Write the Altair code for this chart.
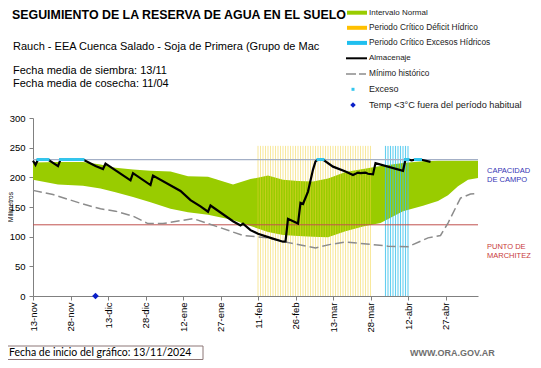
import json
import pandas as pd
import altair as alt

FONT = "Liberation Sans, Arial, sans-serif"

# ---------------- data ----------------
START = "13/11/2024"
TICK_DAYS = [0, 15, 30, 45, 60, 75, 90, 105, 120, 135, 150, 165]
TICK_LABELS = ["13-nov", "28-nov", "13-dic", "28-dic", "12-ene", "27-ene",
               "11-feb", "26-feb", "13-mar", "28-mar", "12-abr", "27-abr"]
Y_TICKS = [0, 50, 100, 150, 200, 250, 300]

CAPACIDAD = 230
MARCHITEZ = 120

alm_day = [0, 1, 2, 6, 10, 11, 20, 25, 28, 29, 39, 40, 47, 48, 59, 63, 67, 70, 71,
           80, 83, 84, 87, 90, 95, 100, 101, 102, 106, 107, 108, 110, 112, 113, 114,
           116, 120, 125, 128, 130, 131, 133, 134, 136, 137, 148, 149, 150, 151.5,
           153, 155, 159]
alm_mm = [228, 221, 230, 230, 219, 230, 230, 219, 214, 223, 195, 207, 187, 203, 177,
          161.5, 151, 142, 152.5, 126, 119, 122, 111, 105, 98, 91.5, 92, 130, 122,
          157, 155, 176, 213, 227, 230, 230, 218, 210, 204, 208, 207, 208, 206, 205,
          224, 211, 230, 230, 228.5, 230, 230, 226]

band_day = [0, 10, 20, 27, 33, 40, 47, 55, 62, 70, 80, 87, 94, 100, 106, 112, 118,
            125, 132, 139, 148, 156, 162, 166, 170, 174, 178]
band_hi = [225, 226, 226, 221.5, 216, 213, 211, 210, 202, 201, 188, 197, 203, 196,
           194, 193, 198, 209, 214, 219, 224, 227, 228, 228, 228, 228, 228]
band_lo = [196, 188, 186, 181, 175, 167, 158, 147, 141, 137, 128, 118, 108, 103,
           101, 100, 99, 109, 117, 123, 143, 152, 160, 170, 185, 196, 199]

min_day = [0, 8, 20, 27, 33, 40, 46, 52, 64, 75, 84, 94, 102, 113, 119, 125, 135,
           142, 150, 158, 163, 166, 171, 175, 178]
min_mm = [178, 171, 155, 147, 143, 134.5, 122, 122, 130.5, 115, 102, 98, 90, 81, 87,
          91, 87, 84, 83, 98, 102, 123, 165, 172, 173]

exc_day = [2, 3, 4, 5, 6, 11, 12, 13, 14, 15, 16, 17, 18, 19, 20, 114, 115, 116,
           149, 150, 153, 154, 155]
frost_day = [25]
frost_mm = [0]

DEFICIT_START, DEFICIT_END = 90, 135   # 11-feb .. 28-mar
EXCESS_START, EXCESS_END = 141, 150    # 02-abr .. 12-abr
PERIOD_TOP = 253

# ---------------- tables ----------------
alm_df = pd.DataFrame({"d": alm_day, "mm": alm_mm})
band_df = pd.DataFrame({"d": band_day, "lo": band_lo, "hi": band_hi})
min_df = pd.DataFrame({"d": min_day, "mm": min_mm})
exc_df = pd.DataFrame({"d": exc_day, "mm": [CAPACIDAD] * len(exc_day)})
frost_df = pd.DataFrame({"d": frost_day, "mm": frost_mm})
def_df = pd.DataFrame({"d": list(range(DEFICIT_START, DEFICIT_END + 1))})
def_df["lo"] = 0
def_df["hi"] = PERIOD_TOP
exs_df = pd.DataFrame({"d": list(range(EXCESS_START, EXCESS_END + 1))})
exs_df["lo"] = 0
exs_df["hi"] = PERIOD_TOP
ref_df = pd.DataFrame({"mm": [CAPACIDAD, MARCHITEZ], "c": ["cap", "mar"]})
one = pd.DataFrame({"a": [0]})

# ---------------- scales / axes ----------------
xs = alt.Scale(domain=[0, 178], nice=False, zero=False)
ys = alt.Scale(domain=[0, 300], nice=False)
label_expr = f"{json.dumps(TICK_LABELS)}[indexof({json.dumps(TICK_DAYS)}, datum.value)]"
xaxis = alt.Axis(values=TICK_DAYS, labelExpr=label_expr, labelAngle=270, title=None,
                 labelFontSize=9.5, labelFont=FONT, labelColor="#000000", tickSize=4,
                 tickColor="#808080", domainColor="#808080", labelPadding=2,
                 grid=False, labelOverlap=False, labelBound=False, labelFlush=False)
yaxis = alt.Axis(values=Y_TICKS, title=None, labelFontSize=9.5, labelFont=FONT,
                 labelColor="#000000", tickSize=4, tickColor="#808080",
                 domainColor="#808080", labelPadding=4, grid=False)

X = lambda f="d": alt.X(f"{f}:Q", scale=xs, axis=xaxis)
Y = lambda f="mm": alt.Y(f"{f}:Q", scale=ys, axis=yaxis)

layers = []

band = alt.Chart(band_df).mark_area(color="#99CC00", opacity=1, interpolate="linear").encode(
    x=X(), y=Y("lo"), y2="hi:Q")
layers.append(band)

deficit = alt.Chart(def_df).mark_rule(color="#F2D23A", strokeWidth=1, opacity=0.5).encode(
    x=X(), y=Y("lo"), y2="hi:Q")
excess = alt.Chart(exs_df).mark_rule(color="#3CC3EC", strokeWidth=1.1, opacity=0.8).encode(
    x=X(), y=Y("lo"), y2="hi:Q")
layers += [deficit, excess]

cap = alt.Chart(ref_df[ref_df.c == "cap"]).mark_rule(color="#A3AFC6", strokeWidth=1.2).encode(
    y=Y(), x=alt.value(0), x2=alt.value(445))
mar = alt.Chart(ref_df[ref_df.c == "mar"]).mark_rule(color="#C0504D", strokeWidth=1).encode(
    y=Y(), x=alt.value(0), x2=alt.value(445))
layers += [cap, mar]

minimo = alt.Chart(min_df).mark_line(color="#8C8C8C", strokeWidth=1.5, strokeDash=[9, 4]).encode(
    x=X(), y=Y())
alm = alt.Chart(alm_df).mark_line(color="#000000", strokeWidth=2.2).encode(x=X(), y=Y())
exc = alt.Chart(exc_df).mark_point(shape="square", filled=True, color="#33C6EE", size=9,
                                   opacity=1).encode(x=X(), y=Y())
frost = alt.Chart(frost_df).mark_point(shape="diamond", filled=True, color="#0A1FC8", size=45,
                                       opacity=1).encode(x=X(), y=Y())
layers += [minimo, alm, exc, frost]


# ---------------- annotations (pixel positions relative to plot origin) -----------
def txt(s, x, y, size, color="#000000", weight="normal", font=FONT, baseline="alphabetic",
        angle=0, align="left"):
    kw = dict(fontSize=size, color=color, fontWeight=weight, font=font,
              baseline=baseline, align=align)
    if angle:
        kw["angle"] = angle
    return alt.Chart(one).mark_text(**kw).encode(x=alt.value(x), y=alt.value(y),
                                                  text=alt.value(s))


def rect(x, x2, y, y2, fill, stroke=None):
    kw = dict(fill=fill, opacity=1)
    if stroke:
        kw.update(stroke=stroke, strokeWidth=1)
    return alt.Chart(one).mark_rect(**kw).encode(x=alt.value(x), x2=alt.value(x2),
                                                 y=alt.value(y), y2=alt.value(y2))


layers.append(txt("SEGUIMIENTO DE LA RESERVA DE AGUA  EN EL SUELO", -21, -99, 12.4,
                  weight="bold"))
layers.append(txt("Rauch  - EEA Cuenca Salado - Soja de Primera (Grupo de Mac", -20, -68.5, 11))
layers.append(txt("Fecha media de siembra: 13/11", -20, -44, 11))
layers.append(txt("Fecha media de cosecha: 11/04", -20, -31, 11))

# legend
LX0, LX1, TX = 314, 334, 336
rows = [-105.3, -90.2, -75.1, -59.7, -44, -28.7, -13]
layers.append(rect(LX0, LX1, rows[0] - 2, rows[0] + 2, "#99CC00"))
layers.append(rect(LX0, LX1, rows[1] - 2, rows[1] + 2, "#FFC000"))
layers.append(rect(LX0, LX1, rows[2] - 2, rows[2] + 2, "#1FBFEF"))
layers.append(alt.Chart(one).mark_rule(color="#000000", strokeWidth=2).encode(
    x=alt.value(LX0 - 1), x2=alt.value(LX1), y=alt.value(rows[3])))
layers.append(alt.Chart(one).mark_rule(color="#8C8C8C", strokeWidth=1.5, strokeDash=[10, 3]).encode(
    x=alt.value(LX0 - 1), x2=alt.value(LX1 - 1), y=alt.value(rows[4])))
layers.append(alt.Chart(one).mark_point(shape="square", filled=True, color="#33C6EE", size=9,
                                        opacity=1).encode(x=alt.value(320), y=alt.value(rows[5])))
layers.append(alt.Chart(one).mark_point(shape="diamond", filled=True, color="#0A1FC8", size=30,
                                        opacity=1).encode(x=alt.value(320), y=alt.value(rows[6])))
leg_txt = ["Intervalo Normal", "Periodo Crítico Déficit Hídrico",
           "Periodo Crítico Excesos Hídricos", "Almacenaje", "Mínimo histórico",
           "Exceso", "Temp <3°C fuera del período habitual"]
leg_size = [8, 8.3, 8.3, 8, 8.3, 9, 9.2]
for t, yy, sz in zip(leg_txt, rows, leg_size):
    layers.append(txt(t, TX, yy, sz, baseline="middle", color="#1a1a1a"))

# right-side labels
layers.append(txt("CAPACIDAD", 454, 55.3, 7.5, color="#3535B5"))
layers.append(txt("DE  CAMPO", 454, 63.7, 7.5, color="#3535B5"))
layers.append(txt("PUNTO  DE", 454, 131.3, 7.5, color="#C83A3A"))
layers.append(txt("MARCHITEZ", 454, 139.7, 7.5, color="#C83A3A"))

# y title
layers.append(txt("Milímetros", -22.5, 89, 6.5, baseline="middle", angle=270, align="center"))

# bottom box
layers.append(rect(-29, 170, 228, 241.5, "#FFFFFF", stroke="#8C7676"))
layers.append(txt(f"Fecha de inicio del gráfico:  {START}", -24, 235, 10.5,
                  font="Lato, Open Sans, sans-serif", baseline="middle"))
layers.append(txt("WWW.ORA.GOV.AR", 377, 235, 9, color="#6E6E6E", weight="bold",
                  baseline="middle"))

chart = alt.layer(*layers).properties(
    width=445, height=178,
    autosize=alt.AutoSizeParams(type="none"),
    padding={"left": 25, "top": 110, "right": 53, "bottom": 64},
    background="#FFFFFF",
).configure_view(stroke=None)

chart.save("out.html", embed_options={"renderer": "svg", "actions": False})
